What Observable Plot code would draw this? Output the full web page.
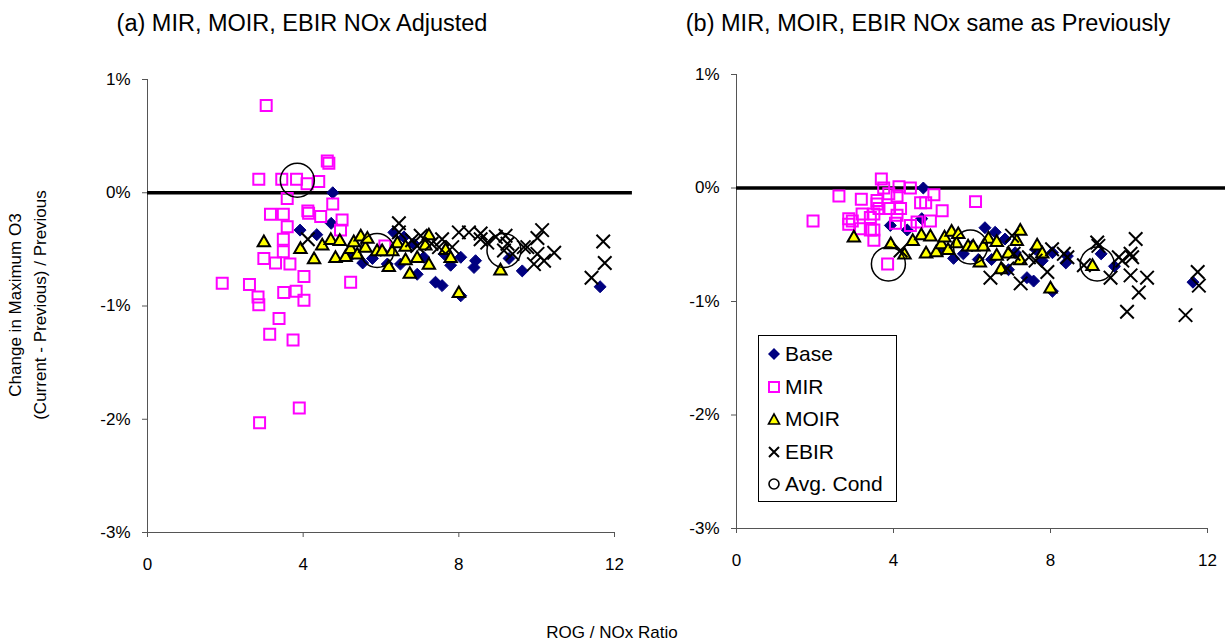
<!DOCTYPE html>
<html><head><meta charset="utf-8">
<script src="https://cdn.jsdelivr.net/npm/d3@7"></script>
<script src="https://cdn.jsdelivr.net/npm/@observablehq/plot@0.6"></script>
<style>
body{margin:0;background:#fff;font-family:"Liberation Sans",Arial,sans-serif;color:#000}
#wrap{position:relative;width:1225px;height:643px;overflow:hidden;background:#fff}
.abs{position:absolute}
.title{font-size:23.5px;white-space:nowrap;transform:translate(-50%,-50%)}
#ylab{font-size:17px;text-align:center;line-height:25px;white-space:nowrap;transform:translate(-50%,-50%) rotate(-90deg)}
#xlab{font-size:17px;white-space:nowrap;transform:translate(-50%,-50%)}
#legend{border:1px solid #000;background:#fff;box-sizing:border-box}
.lg{position:absolute;left:0;height:30px;display:flex;align-items:center;font-size:21px;white-space:nowrap}
.lg svg{margin-left:8px;margin-right:4px}
</style>
</head><body>
<div id="wrap"></div>
<script>
// ---- data (ROG/NOx ratio, % change) ----
const seriesNames = ["Base", "MIR", "MOIR", "EBIR", "Avg. Cond"];
const panelTitles = ["(a) MIR, MOIR, EBIR NOx Adjusted", "(b) MIR, MOIR, EBIR NOx same as Previously"];
const xTicks = [0, 4, 8, 12];
const yTicks = [-3, -2, -1, 0, 1];

const baseData = [[3.92,-0.33],[4.35,-0.37],[4.72,-0.27],[4.76,0.00],[5.27,-0.54],[5.53,-0.62],[5.78,-0.58],[6.0,-0.51],[6.16,-0.63],[6.33,-0.35],[6.5,-0.63],[6.59,-0.39],[6.84,-0.45],[6.93,-0.72],[7.1,-0.57],[7.4,-0.79],[7.57,-0.82],[7.62,-0.54],[7.79,-0.64],[8.05,-0.57],[8.05,-0.91],[8.43,-0.60],[8.39,-0.66],[9.29,-0.58],[9.63,-0.69],[11.63,-0.83]];

const moirData = [[2.99,-0.44],[3.93,-0.50],[4.28,-0.59],[4.49,-0.47],[4.71,-0.42],[4.83,-0.58],[4.94,-0.43],[5.09,-0.57],[5.22,-0.50],[5.30,-0.44],[5.39,-0.55],[5.48,-0.39],[5.60,-0.49],[5.65,-0.41],[5.90,-0.52],[6.03,-0.52],[6.20,-0.66],[6.29,-0.52],[6.42,-0.45],[6.63,-0.48],[6.63,-0.60],[6.74,-0.72],[6.93,-0.58],[7.14,-0.47],[7.23,-0.38],[7.23,-0.64],[7.66,-0.51],[7.79,-0.58],[8.0,-0.89],[9.07,-0.69]];

const mirA = [[1.92,-0.80],[2.62,-0.81],[2.84,-0.92],[2.86,-0.99],[2.86,0.12],[2.88,-2.03],[2.99,-0.58],[3.05,0.77],[3.14,-1.25],[3.16,-0.19],[3.29,-0.62],[3.38,-1.11],[3.45,0.12],[3.49,-0.19],[3.49,-0.41],[3.49,-0.52],[3.50,-0.88],[3.59,-0.05],[3.59,-0.30],[3.66,-0.63],[3.74,-1.30],[3.82,-0.87],[3.83,0.12],[3.90,-1.90],[4.02,-0.74],[4.02,-0.95],[4.10,0.08],[4.12,-0.16],[4.14,-0.18],[4.40,0.10],[4.45,-0.21],[4.62,0.28],[4.66,0.26],[4.76,-0.10],[4.96,-0.33],[5.0,-0.24],[5.22,-0.79],[6.1,-0.47]];

const ebirA = [[4.12,-0.41],[6.46,-0.27],[6.46,-0.35],[6.8,-0.42],[6.93,-0.47],[7.02,-0.38],[7.3,-0.45],[7.49,-0.48],[7.57,-0.41],[7.83,-0.48],[8.0,-0.35],[8.26,-0.35],[8.56,-0.36],[8.56,-0.41],[8.73,-0.44],[8.95,-0.39],[9.2,-0.38],[9.25,-0.45],[9.16,-0.51],[9.38,-0.54],[9.67,-0.48],[9.76,-0.48],[9.93,-0.63],[10.02,-0.40],[10.02,-0.54],[10.14,-0.33],[10.19,-0.60],[10.45,-0.53],[11.41,-0.75],[11.71,-0.43],[11.75,-0.62]];

const avgA = [[3.85,0.11],[5.90,-0.51],[9.16,-0.51]];

const mirB = [[1.95,-0.29],[2.61,-0.07],[2.86,-0.27],[2.86,-0.32],[2.95,-0.29],[3.16,-0.36],[3.18,-0.10],[3.20,-0.23],[3.41,-0.26],[3.41,-0.37],[3.50,-0.23],[3.50,-0.37],[3.50,-0.46],[3.58,-0.11],[3.58,-0.14],[3.63,-0.18],[3.69,0.08],[3.75,0.0],[3.85,-0.67],[3.88,-0.05],[3.88,-0.18],[4.05,-0.31],[4.09,-0.07],[4.09,-0.24],[4.14,0.01],[4.18,-0.18],[4.43,0.0],[4.43,-0.33],[4.6,-0.30],[4.69,-0.13],[4.82,-0.13],[4.94,-0.29],[5.03,-0.06],[5.24,-0.20],[6.09,-0.12]];

const ebirB = [[4.18,-0.55],[6.47,-0.79],[6.90,-0.71],[7.02,-0.42],[7.06,-0.58],[7.24,-0.84],[7.45,-0.61],[7.62,-0.64],[7.92,-0.74],[8.04,-0.54],[8.34,-0.58],[8.43,-0.61],[8.85,-0.68],[9.19,-0.48],[9.22,-0.51],[9.53,-0.79],[9.74,-0.61],[9.83,-0.64],[9.95,-1.09],[10.04,-0.58],[10.04,-0.77],[10.08,-0.61],[10.17,-0.45],[10.25,-0.92],[10.46,-0.79],[11.44,-1.12],[11.75,-0.74],[11.78,-0.86]];

const avgB = [[3.87,-0.67],[5.96,-0.52],[9.19,-0.67]];

// ---- styles ----
const colBase = "#000080", colMir = "#FF00FF", colMoir = "#FFFF00";
const FONT = '"Liberation Sans", Arial, sans-serif';

function panel(opts) {
  const {mir, ebir, avg, width, marginLeft, marginRight, marginTop, marginBottom, zeroEnd} = opts;
  const X = d => d[0], Y = d => d[1];
  return Plot.plot({
    width, height: 600, marginLeft, marginRight, marginTop, marginBottom,
    style: {fontFamily: FONT, fontSize: "17px", color: "#000", background: "transparent", overflow: "visible"},
    x: {domain: [0, 12]},
    y: {domain: [-3, 1]},
    marks: [
      Plot.axisX({ticks: xTicks, tickSize: 5, tickPadding: 20, label: null, stroke: "#555"}),
      Plot.axisY({ticks: yTicks, tickSize: 5, tickPadding: 12, label: null, stroke: "#555", tickFormat: d => d + "%"}),
      Plot.ruleX([0], {stroke: "#555"}),
      Plot.ruleY([-3], {stroke: "#555"}),
      Plot.ruleY([0], {x1: 0, x2: zeroEnd, stroke: "#000", strokeWidth: 3.5}),
      Plot.dot(baseData, {x: X, y: Y, symbol: "diamond2", r: 5.4, fill: colBase, stroke: colBase, strokeWidth: 1}),
      Plot.dot(mir, {x: X, y: Y, symbol: "square", r: 6.2, fill: "none", stroke: colMir, strokeWidth: 2}),
      Plot.dot(moirData, {x: X, y: Y, symbol: "triangle", r: 4.6, fill: colMoir, stroke: "#000", strokeWidth: 2}),
      Plot.dot(ebir, {x: X, y: Y, symbol: "times", r: 6.2, stroke: "#000", strokeWidth: 2}),
      Plot.dot(avg, {x: X, y: Y, symbol: "circle", r: 17, fill: "none", stroke: "#000", strokeWidth: 1.5})
    ]
  });
}

const wrap = document.getElementById("wrap");
function place(el, left, top) { el.classList.add("abs"); el.style.left = left + "px"; el.style.top = top + "px"; wrap.appendChild(el); return el; }

const pA = panel({mir: mirA, ebir: ebirA, avg: avgA, width: 640, marginLeft: 147, marginRight: 26, marginTop: 79, marginBottom: 68, zeroEnd: 12.46});
place(pA, 0, 0);
const pB = panel({mir: mirB, ebir: ebirB, avg: avgB, width: 1225, marginLeft: 736, marginRight: 18, marginTop: 74, marginBottom: 72, zeroEnd: 12.5});
place(pB, 0, 0);

function textDiv(cls, html, cx, cy) {
  const d = document.createElement("div"); d.className = cls; d.innerHTML = html;
  return place(d, cx, cy);
}
textDiv("title", panelTitles[0], 302, 23);
textDiv("title", panelTitles[1], 928, 23);
const yl = document.createElement("div"); yl.id = "ylab"; yl.innerHTML = "Change in Maximum O3<br>(Current - Previous) / Previous"; place(yl, 28, 305);
const xl = document.createElement("div"); xl.id = "xlab"; xl.textContent = "ROG / NOx Ratio"; place(xl, 612, 633);

// legend
const lg = document.createElement("div"); lg.id = "legend"; lg.style.width = "139px"; lg.style.height = "167px";
place(lg, 758, 335);
const sym = [
  '<polygon points="7,1 13,7 7,13 1,7" fill="' + colBase + '"/>',
  '<rect x="2" y="2" width="10" height="10" fill="none" stroke="' + colMir + '" stroke-width="2"/>',
  '<polygon points="7,2 12.5,12 1.5,12" fill="' + colMoir + '" stroke="#000" stroke-width="1.6"/>',
  '<path d="M2,2L12,12M12,2L2,12" stroke="#000" stroke-width="2"/>',
  '<circle cx="7" cy="7" r="5" fill="none" stroke="#000" stroke-width="1.6"/>'
];
seriesNames.forEach((n, i) => {
  const e = document.createElement("div"); e.className = "lg"; e.style.top = (3 + i * 32.5) + "px";
  e.innerHTML = '<svg width="14" height="14">' + sym[i] + '</svg>' + n;
  lg.appendChild(e);
});
</script>
</body></html>
